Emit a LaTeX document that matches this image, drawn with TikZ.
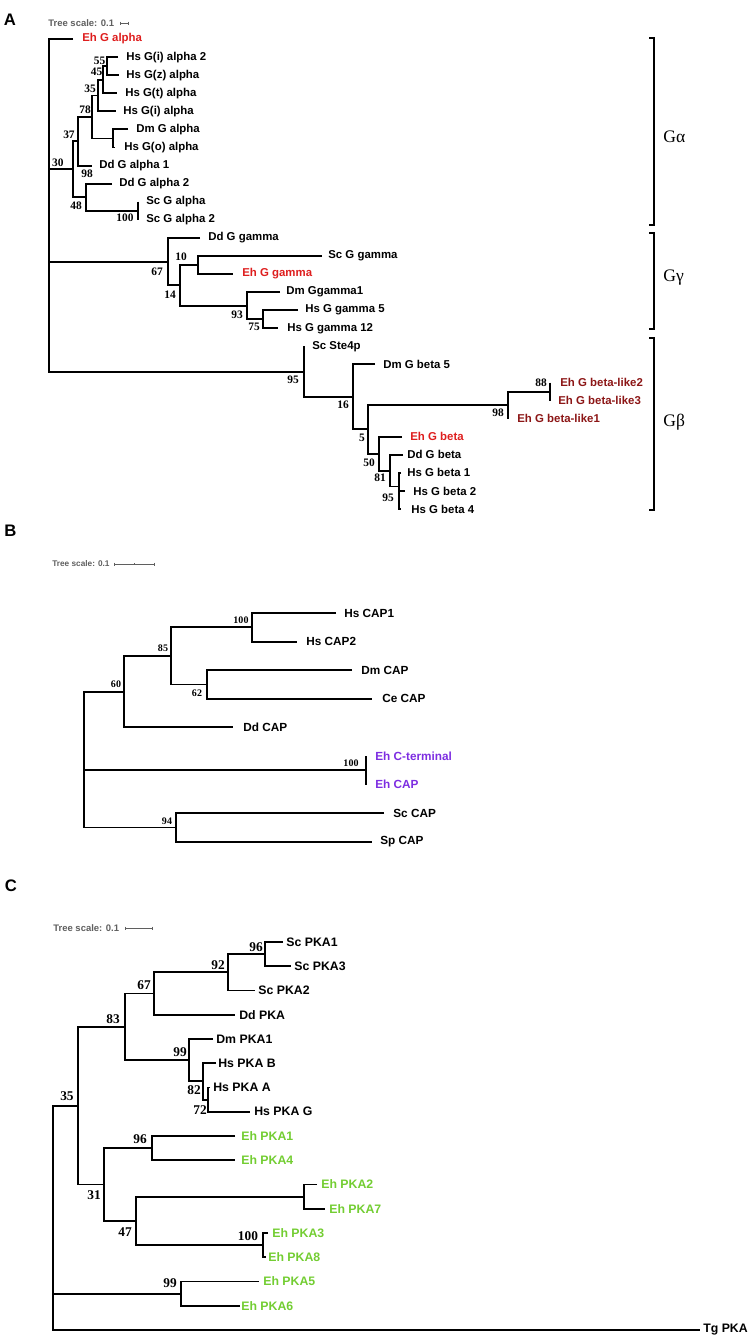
\documentclass[tikz,border=0pt]{standalone}
\usepackage{fontspec}
\setmainfont{Liberation Serif}
\setsansfont{Liberation Sans}
\definecolor{ehred}{RGB}{222,30,30}
\definecolor{ehdark}{RGB}{140,22,22}
\definecolor{ehpurple}{RGB}{125,45,225}
\definecolor{ehgreen}{RGB}{115,205,50}
\definecolor{scalegray}{RGB}{95,95,95}

\begin{document}
\begin{tikzpicture}[x=0.02cm, y=-0.02cm,
	br/.style={line width=1.1pt},
	brk/.style={line width=1.2pt},
	bar/.style={line width=0.45pt, scalegray},
	tipa/.style={anchor=west, inner sep=0pt, font=\sffamily\bfseries\fontsize{6.5}{7}\selectfont},
	tipb/.style={anchor=west, inner sep=0pt, font=\sffamily\bfseries\fontsize{6.7}{7}\selectfont},
	tipc/.style={anchor=west, inner sep=0pt, font=\sffamily\bfseries\fontsize{7}{8}\selectfont},
	bsa/.style={inner sep=0pt, font=\bfseries\fontsize{6.5}{7}\selectfont},
	bsb/.style={inner sep=0pt, font=\bfseries\fontsize{5.7}{6}\selectfont},
	bsc/.style={inner sep=0pt, font=\bfseries\fontsize{7.6}{8}\selectfont},
	letter/.style={inner sep=0pt, font=\sffamily\bfseries\fontsize{9.5}{10}\selectfont},
	scaletxt/.style={anchor=west, inner sep=0pt, scalegray, font=\sffamily\bfseries\fontsize{5.4}{6}\selectfont},
	grk/.style={anchor=west, inner sep=0pt, font=\fontsize{10}{11}\selectfont}]
	\useasboundingbox (0,0) rectangle (750,1339);
	%%%%% A %%%%%
	\node[letter] (la) at (10,19.5) {A};
	\node[scaletxt] (sca) at (48,23) {Tree scale: 0.1};
	\draw[bar] (120,23) -- (128,23);
	\draw[bar] (120,21.5) -- (120,24.5) (128,21.5) -- (128,24.5);
	
	\coordinate (a30) at (73,169.3);
	\coordinate (a37) at (78,141.3);
	\coordinate (a48) at (86,197.2);
	\coordinate (a78) at (92,117);
	\coordinate (a35) at (98,95.5);
	\coordinate (a45) at (103,79.7);
	\coordinate (a55) at (107,66.2);
	\coordinate (adm) at (113,138.5);
	\coordinate (asc) at (138,210.8);
	\coordinate (a67) at (168,261.7);
	\coordinate (a14) at (180,285.4);
	\coordinate (a10) at (198,265);
	\coordinate (a93) at (247,305.7);
	\coordinate (a75) at (263,319.3);
	\coordinate (a95) at (304,371.6);
	\coordinate (a16) at (353,396.9);
	\coordinate (a5) at (368,429.4);
	\coordinate (a98) at (508,405.1);
	\coordinate (a88) at (550,391.6);
	\coordinate (a50) at (379,453.7);
	\coordinate (a81) at (390,470.6);
	\coordinate (a95b) at (399,486.5);
	
	% root
	\draw[br] (73,39) -| (49,371.6) -- (a95);
	\draw[br] (49,169.3) -- (a30);
	\draw[br] (49,261.7) -- (a67);
	% G alpha
	\draw[br] (a37) -| (a30) |- (a48);
	\draw[br] (a78) -| (a37) |- (92,165.6);
	\draw[br] (a35) -| (a78) |- (adm);
	\draw[br] (a45) -| (a35) |- (116,111.3);
	\draw[br] (a55) -| (a45) |- (117,93.2);
	\draw[br] (118,57.1) -| (a55) |- (119,75.2);
	\draw[br] (128,129.4) -| (adm) |- (115,147.5);
	\draw[br] (112,183.6) -| (a48) |- (asc);
	\draw[br] (138,201.7) -- (138,219.8);
	% G gamma
	\draw[br] (200,237.9) -| (a67) |- (a14);
	\draw[br] (a10) -| (a14) |- (a93);
	\draw[br] (322,256) -| (a10) |- (233,274);
	\draw[br] (280,292.1) -| (a93) |- (a75);
	\draw[br] (298,310.2) -| (a75) |- (278,328.3);
	% G beta
	\draw[br] (304,346.4) |- (a16);
	\draw[br] (375,364.4) -| (a16) |- (a5);
	\draw[br] (a98) -| (a5) |- (a50);
	\draw[br] (a88) -| (a98) -- (508,418.7);
	\draw[br] (550,382.5) -- (550,400.6);
	\draw[br] (402,436.8) -| (a50) |- (a81);
	\draw[br] (403,454.8) -| (a81) |- (a95b);
	\draw[br] (401,472.9) -| (a95b) |- (401,509.1);
	\draw[br] (399,491) -- (405,491);
	
	\node[tipa, ehred] (ehga) at (82,39) {Eh G alpha};
	\node[tipa] (hsgia2) at (126,57.1) {Hs G(i) alpha 2};
	\node[tipa] (hsgza) at (126,75.2) {Hs G(z) alpha};
	\node[tipa] (hsgta) at (125,93.2) {Hs G(t) alpha};
	\node[tipa] (hsgia) at (123,111.3) {Hs G(i) alpha};
	\node[tipa] (dmga) at (136,129.4) {Dm G alpha};
	\node[tipa] (hsgoa) at (124,147.5) {Hs G(o) alpha};
	\node[tipa] (ddga1) at (99,165.6) {Dd G alpha 1};
	\node[tipa] (ddga2) at (119,183.6) {Dd G alpha 2};
	\node[tipa] (scga) at (146,201.7) {Sc G alpha};
	\node[tipa] (scga2) at (146,219.8) {Sc G alpha 2};
	\node[tipa] (ddgg) at (208,237.9) {Dd G gamma};
	\node[tipa] (scgg) at (328,256) {Sc G gamma};
	\node[tipa, ehred] (ehgg) at (242,274) {Eh G gamma};
	\node[tipa] (dmgg1) at (286,292.1) {Dm Ggamma1};
	\node[tipa] (hsgg5) at (305,310.2) {Hs G gamma 5};
	\node[tipa] (hsgg12) at (287,328.3) {Hs G gamma 12};
	\node[tipa] (scste) at (312,346.4) {Sc Ste4p};
	\node[tipa] (dmgb5) at (383,364.4) {Dm G beta 5};
	\node[tipa, ehdark] (ehgbl2) at (560,382.5) {Eh G beta-like2};
	\node[tipa, ehdark] (ehgbl3) at (558,400.6) {Eh G beta-like3};
	\node[tipa, ehdark] (ehgbl1) at (517,418.7) {Eh G beta-like1};
	\node[tipa, ehred] (ehgb) at (410,436.8) {Eh G beta};
	\node[tipa] (ddgb) at (407,454.8) {Dd G beta};
	\node[tipa] (hsgb1) at (407,472.9) {Hs G beta 1};
	\node[tipa] (hsgb2) at (413,491) {Hs G beta 2};
	\node[tipa] (hsgb4) at (411,509.1) {Hs G beta 4};
	
	\node[bsa] (ba55) at (99.5,61) {55};
	\node[bsa] (ba45) at (96.7,72) {45};
	\node[bsa] (ba35) at (90,89) {35};
	\node[bsa] (ba78) at (85,109.5) {78};
	\node[bsa] (ba37) at (69,134.7) {37};
	\node[bsa] (ba30) at (57.8,162.5) {30};
	\node[bsa] (ba98) at (87,173.7) {98};
	\node[bsa] (ba48) at (76,206) {48};
	\node[bsa] (ba100) at (125,218) {100};
	\node[bsa] (ba10) at (181,257) {10};
	\node[bsa] (ba67) at (157,272) {67};
	\node[bsa] (ba14) at (170,295) {14};
	\node[bsa] (ba93) at (237,315) {93};
	\node[bsa] (ba75) at (254,327) {75};
	\node[bsa] (ba95) at (293,380) {95};
	\node[bsa] (ba16) at (343,405) {16};
	\node[bsa] (ba88) at (541,383) {88};
	\node[bsa] (ba98b) at (498,413) {98};
	\node[bsa] (ba5) at (362,438) {5};
	\node[bsa] (ba50) at (369,463) {50};
	\node[bsa] (ba81) at (380,478) {81};
	\node[bsa] (ba95b) at (388,498) {95};
	
	\draw[brk] (649,38) -- (654,38) -- (654,225) -- (649,225);
	\draw[brk] (649,233) -- (654,233) -- (654,329) -- (649,329);
	\draw[brk] (649,338) -- (654,338) -- (654,510) -- (649,510);
	\node[grk] (galpha) at (663,137) {Gα};
	\node[grk] (ggamma) at (663,278) {Gγ};
	\node[grk] (gbeta) at (663,422) {Gβ};
	
	%%%%% B %%%%%
	\node[letter] (lb) at (10.5,530.5) {B};
	\node[scaletxt, font=\sffamily\bfseries\fontsize{4.7}{5}\selectfont] (scb) at (52,564) {Tree scale: 0.1};
	\draw[bar] (114,564) -- (154,564);
	\draw[bar] (114,562.5) -- (114,565.5) (134,563) -- (134,565) (154,562.5) -- (154,565.5);
	
	\coordinate (b100) at (252,627.3);
	\coordinate (b62) at (207,684.5);
	\coordinate (b85) at (171,655.9);
	\coordinate (b60) at (124,691.7);
	\coordinate (beh) at (366,770.3);
	\coordinate (b94) at (176,827.5);
	
	\draw[br] (b60) -| (84,827.5) -- (b94);
	\draw[br] (84,770.3) -- (beh);
	\draw[br] (b85) -| (b60) |- (233,727.4);
	\draw[br] (b100) -| (b85) |- (b62);
	\draw[br] (336,613) -| (b100) |- (297,641.6);
	\draw[br] (352,670.2) -| (b62) |- (372,698.8);
	\draw[br] (366,756) -- (366,784.6);
	\draw[br] (384,813.2) -| (b94) |- (372,841.8);
	
	\node[tipb] (hscap1) at (344,613) {Hs CAP1};
	\node[tipb] (hscap2) at (306,641.6) {Hs CAP2};
	\node[tipb] (dmcap) at (361,670.2) {Dm CAP};
	\node[tipb] (cecap) at (382,698.8) {Ce CAP};
	\node[tipb] (ddcap) at (243,727.4) {Dd CAP};
	\node[tipb, ehpurple] (ehcterm) at (375,756) {Eh C-terminal};
	\node[tipb, ehpurple] (ehcap) at (375,784.6) {Eh CAP};
	\node[tipb] (sccap) at (393,813.2) {Sc CAP};
	\node[tipb] (spcap) at (380,841.8) {Sp CAP};
	
	\node[bsb] (bb100) at (241,620) {100};
	\node[bsb] (bb85) at (163,648) {85};
	\node[bsb] (bb62) at (197,693) {62};
	\node[bsb] (bb60) at (116,684) {60};
	\node[bsb] (bb100b) at (351,763) {100};
	\node[bsb] (bb94) at (167,821) {94};
	
	%%%%% C %%%%%
	\node[letter] (lc) at (11,886) {C};
	\node[scaletxt] (scc) at (53,928) {Tree scale: 0.1};
	\draw[bar] (125,928) -- (152,928);
	\draw[bar] (125,926.5) -- (125,929.5) (152,926.5) -- (152,929.5);
	
	\coordinate (c96) at (265,954.1);
	\coordinate (c92) at (228,972.3);
	\coordinate (c67) at (154,993.5);
	\coordinate (c83) at (125,1026.9);
	\coordinate (c99) at (189,1060.2);
	\coordinate (c82) at (203,1081.4);
	\coordinate (c72) at (208,1099.6);
	\coordinate (c35) at (78,1105.7);
	\coordinate (c31) at (104,1184.5);
	\coordinate (c96b) at (152,1148.1);
	\coordinate (c47) at (136,1220.9);
	\coordinate (c27) at (304,1196.6);
	\coordinate (c100) at (263,1245.1);
	\coordinate (c99b) at (181,1293.6);
	
	% root
	\draw[br] (c35) -| (53,1330) -- (700,1330);
	\draw[br] (53,1293.6) -- (c99b);
	\draw[br] (c83) -| (c35) |- (c31);
	\draw[br] (c67) -| (c83) |- (c99);
	\draw[br] (c92) -| (c67) |- (235,1014.75);
	\draw[br] (c96) -| (c92) |- (255,990.5);
	\draw[br] (283,942) -| (c96) |- (291,966.25);
	\draw[br] (213,1039) -| (c99) |- (c82);
	\draw[br] (216,1063.25) -| (c82) |- (c72);
	\draw[br] (210,1087.5) -| (c72) |- (250,1111.75);
	\draw[br] (c96b) -| (c31) |- (c47);
	\draw[br] (235,1136) -| (c96b) |- (235,1160.25);
	\draw[br] (c27) -| (c47) |- (c100);
	\draw[br] (317,1184.5) -| (c27) |- (325,1208.75);
	\draw[br] (268,1233) -| (c100) |- (266,1257.25);
	\draw[br] (259,1281.5) -| (c99b) |- (240,1305.75);
	
	\node[tipc] (scpka1) at (286,942) {Sc PKA1};
	\node[tipc] (scpka3) at (294,966.25) {Sc PKA3};
	\node[tipc] (scpka2) at (258,990.5) {Sc PKA2};
	\node[tipc] (ddpka) at (239,1014.75) {Dd PKA};
	\node[tipc] (dmpka1) at (216,1039) {Dm PKA1};
	\node[tipc] (hspkab) at (218,1063.25) {Hs PKA B};
	\node[tipc] (hspkaa) at (213,1087.5) {Hs PKA A};
	\node[tipc] (hspkag) at (254,1111.75) {Hs PKA G};
	\node[tipc, ehgreen] (ehpka1) at (241,1136) {Eh PKA1};
	\node[tipc, ehgreen] (ehpka4) at (241,1160.25) {Eh PKA4};
	\node[tipc, ehgreen] (ehpka2) at (321,1184.5) {Eh PKA2};
	\node[tipc, ehgreen] (ehpka7) at (329,1208.75) {Eh PKA7};
	\node[tipc, ehgreen] (ehpka3) at (272,1233) {Eh PKA3};
	\node[tipc, ehgreen] (ehpka8) at (268,1257.25) {Eh PKA8};
	\node[tipc, ehgreen] (ehpka5) at (263,1281.5) {Eh PKA5};
	\node[tipc, ehgreen] (ehpka6) at (241,1305.75) {Eh PKA6};
	\node[tipc] (tgpka) at (703,1330) {Tg PKA};
	
	\node[bsc] (bc96) at (256,947) {96};
	\node[bsc] (bc92) at (218,965) {92};
	\node[bsc] (bc67) at (144,985) {67};
	\node[bsc] (bc83) at (113,1019) {83};
	\node[bsc] (bc99) at (180,1052) {99};
	\node[bsc] (bc82) at (194,1090) {82};
	\node[bsc] (bc72) at (200,1110) {72};
	\node[bsc] (bc35) at (67,1096) {35};
	\node[bsc] (bc96b) at (140,1139) {96};
	\node[bsc] (bc31) at (94,1195) {31};
	\node[bsc] (bc47) at (125,1232) {47};
	\node[bsc] (bc100) at (248,1236) {100};
	\node[bsc] (bc99b) at (170,1283) {99};
\end{tikzpicture}
\end{document}
